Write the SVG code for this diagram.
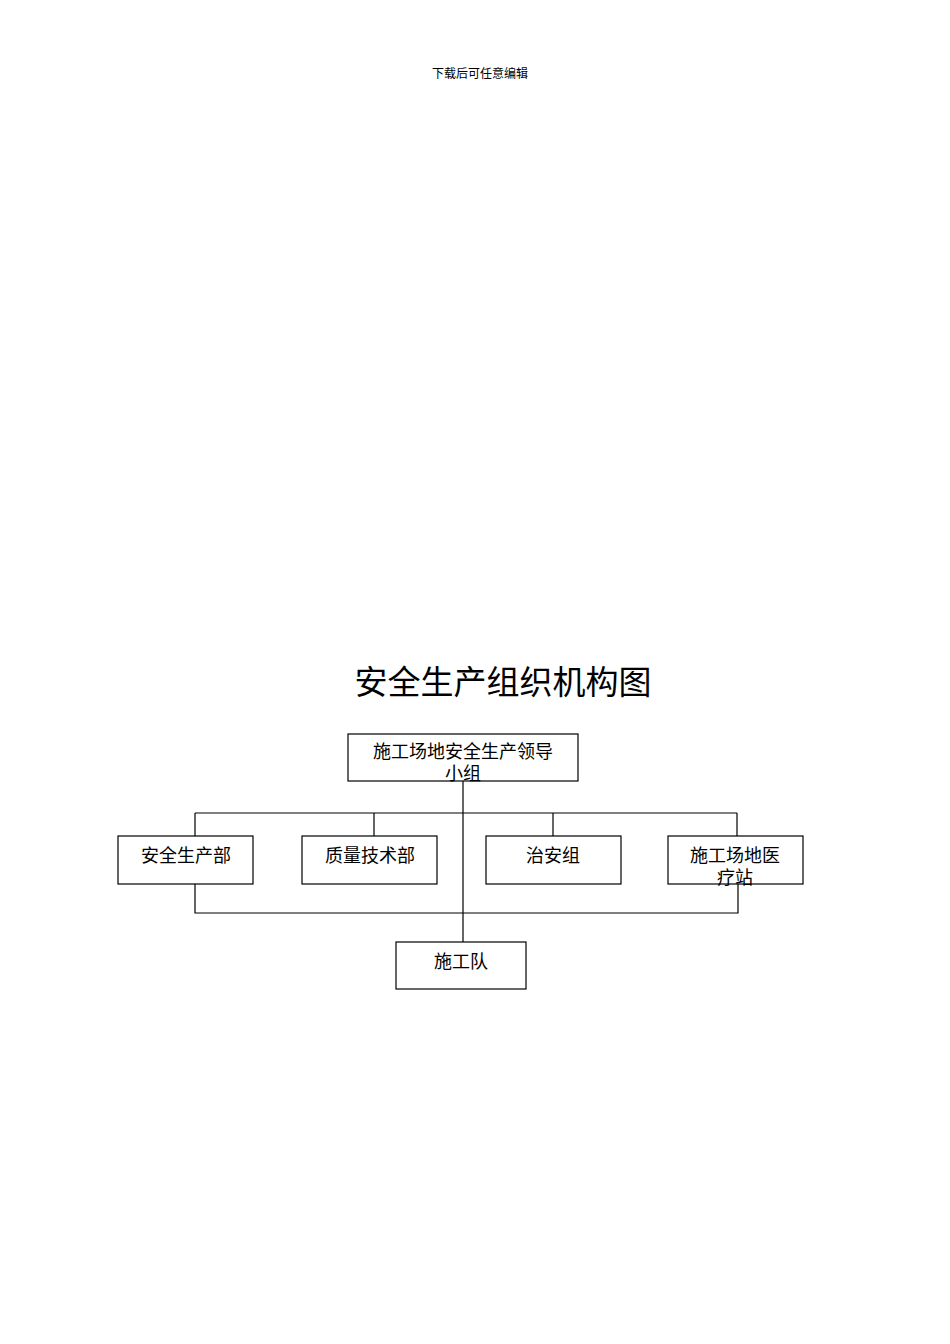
<svg xmlns="http://www.w3.org/2000/svg" width="950" height="1344" viewBox="0 0 950 1344">
<style>
text{font-family:"Liberation Serif","Noto Sans CJK SC",serif;fill:#000;text-anchor:middle}
.b{fill:#fff;stroke:#000;stroke-width:1.2}
.l{stroke:#000;stroke-width:1.2;fill:none}
.t{font-size:18px}
</style>
<rect width="950" height="1344" fill="#fff"/>
<text x="480" y="78" font-size="12">下载后可任意编辑</text>
<text x="503" y="694" font-size="33">安全生产组织机构图</text>
<g id="connectors">
<path class="l" d="M463 781V942M195 813H737M195 813V836M374 813V836M553 813V836M737 813V836M195 884V913H738V884"/>
</g>
<g id="n0"><rect class="b" x="348" y="734" width="230" height="47"/><text class="t" x="463" y="758">施工场地安全生产领导</text><text class="t" x="463" y="780">小组</text></g>
<g id="n1"><rect class="b" x="118" y="836" width="135" height="48"/><text class="t" x="186" y="862">安全生产部</text></g>
<g id="n2"><rect class="b" x="302" y="836" width="135" height="48"/><text class="t" x="370" y="862">质量技术部</text></g>
<g id="n3"><rect class="b" x="486" y="836" width="135" height="48"/><text class="t" x="553" y="862">治安组</text></g>
<g id="n4"><rect class="b" x="668" y="836" width="135" height="48"/><text class="t" x="735" y="862">施工场地医</text><text class="t" x="735" y="884">疗站</text></g>
<g id="n5"><rect class="b" x="396" y="942" width="130" height="47"/><text class="t" x="461" y="968">施工队</text></g>
</svg>
